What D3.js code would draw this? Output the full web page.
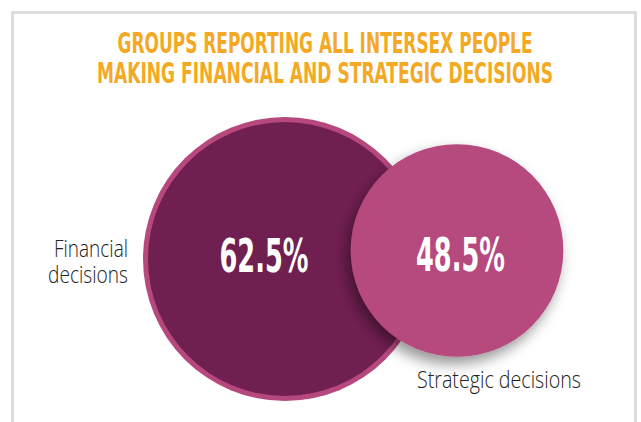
<!DOCTYPE html>
<html>
<head>
<meta charset="utf-8">
<style>
  body { margin: 0; background: #fff; }
  svg { display: block; }
</style>
</head>
<body>
<div id="viz"></div>
<script src="https://d3js.org/d3.v7.min.js"></script>
<script>
  // data
  const titleLines = ["GROUPS REPORTING ALL INTERSEX PEOPLE", "MAKING FINANCIAL AND STRATEGIC DECISIONS"];
  const categories = ["Financial decisions", "Strategic decisions"];
  const values = [62.5, 48.5];
  const valueLabels = ["62.5%", "48.5%"];
  const labelLines = [["Financial", "decisions"], ["Strategic decisions"]];

  const width = 641,
        height = 422;

  const svg = d3.select("#viz").append("svg")
      .attr("width", width)
      .attr("height", height);

  const defs = svg.append("defs");
  defs.append("filter")
      .attr("id", "shadow")
      .attr("x", "-30%").attr("y", "-30%")
      .attr("width", "160%").attr("height", "160%")
    .append("feDropShadow")
      .attr("dx", -4)
      .attr("dy", 7)
      .attr("stdDeviation", 7)
      .attr("flood-color", "#000")
      .attr("flood-opacity", 0.42);

  // card frame
  svg.append("rect")
      .attr("x", 12.5)
      .attr("y", 12.5)
      .attr("width", 623)
      .attr("height", 440)
      .attr("fill", "none")
      .attr("stroke", "#dcdcdc")
      .attr("stroke-width", 3);

  // title
  const titleFont = "'Liberation Sans Narrow', 'DejaVu Sans Condensed', Roboto, sans-serif";
  const titleWidths = [415, 456];
  svg.append("g").selectAll("text")
      .data(titleLines)
    .enter().append("text")
      .attr("x", 325)
      .attr("y", (d, i) => 53 + i * 30)
      .attr("text-anchor", "middle")
      .attr("font-family", titleFont)
      .attr("font-weight", "bold")
      .attr("font-size", 28)
      .attr("textLength", (d, i) => titleWidths[i])
      .attr("lengthAdjust", "spacingAndGlyphs")
      .attr("fill", "#f3a923")
      .text(d => d);

  // radius scale (fill radius proportional to value)
  const rScale = d3.scaleLinear()
      .domain([0, d3.max(values)])
      .range([0, 137]);

  const centers = [{x: 285, y: 259}, {x: 457, y: 250.5}];
  const fills = ["#701f51", "#b64a7d"];

  const data = categories.map((c, i) => ({
    category: c,
    value: values[i],
    label: valueLabels[i],
    lines: labelLines[i],
    cx: centers[i].x,
    cy: centers[i].y,
    fill: fills[i]
  }));

  // big circle with pink rim
  const big = data[0];
  svg.append("circle")
      .attr("cx", big.cx)
      .attr("cy", big.cy)
      .attr("r", rScale(big.value) + 5)
      .attr("fill", "#b7487e");
  svg.append("circle")
      .attr("cx", big.cx)
      .attr("cy", big.cy)
      .attr("r", rScale(big.value))
      .attr("fill", big.fill);

  // small circle with drop shadow
  const small = data[1];
  svg.append("circle")
      .attr("cx", small.cx)
      .attr("cy", small.cy)
      .attr("r", rScale(small.value))
      .attr("fill", small.fill)
      .attr("filter", "url(#shadow)");

  // value labels
  const pctFont = "'Liberation Sans Narrow', 'DejaVu Sans Condensed', Roboto, sans-serif";
  const pctPos = [{x: 264, y: 272}, {x: 460.5, y: 271}];
  svg.append("g").selectAll("text")
      .data(data)
    .enter().append("text")
      .attr("x", (d, i) => pctPos[i].x)
      .attr("y", (d, i) => pctPos[i].y)
      .attr("text-anchor", "middle")
      .attr("font-family", pctFont)
      .attr("font-weight", "bold")
      .attr("font-size", 47)
      .attr("textLength", 89)
      .attr("lengthAdjust", "spacingAndGlyphs")
      .attr("fill", "#fff")
      .text(d => d.label);

  // category labels
  const labelFont = "'Open Sans', Lato, sans-serif";
  const fin = svg.append("g");
  const finWidths = [74, 80];
  fin.selectAll("text")
      .data(data[0].lines)
    .enter().append("text")
      .attr("x", 128)
      .attr("y", (d, i) => 257 + i * 26)
      .attr("text-anchor", "end")
      .attr("font-family", labelFont)
      .attr("font-weight", 300)
      .attr("font-size", 23)
      .attr("textLength", (d, i) => finWidths[i])
      .attr("lengthAdjust", "spacingAndGlyphs")
      .attr("fill", "#222")
      .text(d => d);

  svg.append("text")
      .attr("x", 417)
      .attr("y", 388)
      .attr("font-family", labelFont)
      .attr("font-weight", 300)
      .attr("font-size", 23)
      .attr("textLength", 164)
      .attr("lengthAdjust", "spacingAndGlyphs")
      .attr("fill", "#222")
      .text(data[1].lines[0]);
</script>
</body>
</html>
